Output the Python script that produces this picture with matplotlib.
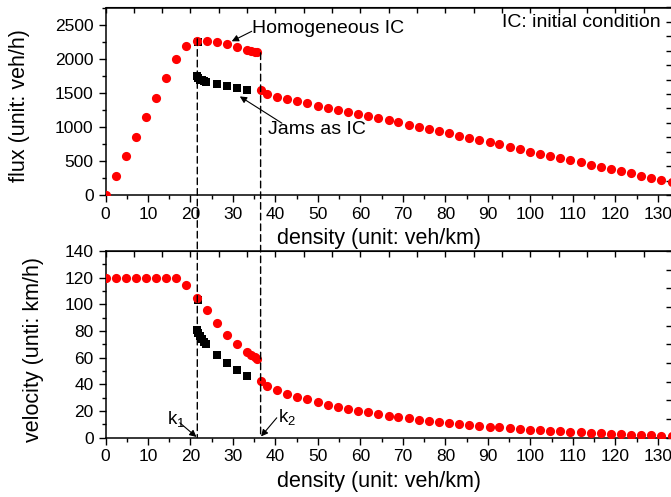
import numpy as np
import matplotlib
matplotlib.use('Agg')
import matplotlib.pyplot as plt
from matplotlib.patches import ConnectionPatch
from matplotlib.ticker import MultipleLocator, NullFormatter

plt.rcParams['font.family'] = ['Liberation Sans', 'DejaVu Sans']
plt.rcParams['mathtext.fontset'] = 'custom'
plt.rcParams['mathtext.rm'] = 'Liberation Sans'

# homogeneous initial condition (red circles)
dens_hom = [0, 2.4, 4.8, 7.1, 9.5, 11.9, 14.3, 16.7, 19.0, 21.5, 23.8, 26.2, 28.6, 30.9,
            33.3, 34.3, 35.1, 35.7, 36.5,
            38.0, 40.4, 42.8, 45.1, 47.5, 49.9, 52.3, 54.7, 57.0, 59.4, 61.8, 64.2, 66.6,
            68.9, 71.3, 73.7, 76.1, 78.5, 80.8, 83.2, 85.6, 88.0, 90.4, 92.7, 95.1, 97.5,
            99.9, 102.3, 104.6, 107.0, 109.4, 111.8, 114.2, 116.5, 118.9, 121.3, 123.7,
            126.1, 128.4, 130.8, 133.2]
flux_hom = [0, 285, 570, 855, 1140, 1425, 1710, 2000, 2181, 2255, 2264, 2245, 2210, 2176,
            2132, 2117, 2102, 2092, 1534,
            1475, 1440, 1410, 1377, 1350, 1312, 1282, 1250, 1216, 1187, 1158, 1128, 1093,
            1064, 1029, 1000, 968, 936, 907, 868, 838, 809, 777, 745, 706, 676,
            637, 608, 578, 544, 515, 480, 446, 416, 382, 348, 319,
            284, 255, 221, 191]
vel_hom = [120, 120, 120, 120, 120, 120, 120, 120, 114.6, 105, 95.4, 86, 77, 70.2,
           64.2, 62.2, 60.4, 58.9, 42.2,
           38.8, 35.8, 33, 30.5, 28.8, 26.6, 24.7, 22.9, 21.4, 20.1, 18.8, 17.7, 16.5,
           15.4, 14.4, 13.5, 12.5, 11.6, 10.9, 10.1, 9.4, 8.8, 8.2, 7.6, 7.0, 6.5,
           6.0, 5.5, 5.1, 4.6, 4.2, 3.8, 3.5, 3.2, 2.8, 2.5, 2.2,
           1.9, 1.7, 1.4, 1.2]

# jams as initial condition (black squares)
dens_jam = [21.7, 21.6, 21.8, 22.2, 22.7, 23.2, 23.7, 26.2, 28.6, 30.9, 33.3]
flux_jam = [2240, 1745, 1712, 1690, 1680, 1670, 1660, 1632, 1603, 1568, 1544]
vel_jam = [103, 80.8, 78.5, 76, 74, 72, 70, 62.2, 56, 51, 46]

# critical densities k1, k2 and the flux where the dashed markers start
k_crit = [21.6, 36.5]
k_top = [2290, 2085]

XMAX = 133.3
W, H = 671, 497

fig = plt.figure(figsize=(W / 100, H / 100), dpi=100)
ax1 = fig.add_axes([105.5 / W, 1 - 195 / H, 566.5 / W, 187.5 / H])
ax2 = fig.add_axes([105.5 / W, 1 - 437.5 / H, 566.5 / W, 186.5 / H])


def style(ax, ymax, ymajor, yminor, yright):
    ax.set_xlim(0, XMAX)
    ax.set_ylim(0, ymax)
    ax.xaxis.set_major_locator(MultipleLocator(10))
    ax.xaxis.set_minor_locator(MultipleLocator(5))
    ax.yaxis.set_major_locator(MultipleLocator(ymajor))
    ax.yaxis.set_minor_locator(MultipleLocator(yminor))
    ax.tick_params(which='both', direction='out', width=1, labelsize=12.5,
                   top=False, right=False)
    ax.tick_params(which='major', length=5)
    ax.tick_params(which='minor', length=3)
    for s in ax.spines.values():
        s.set_linewidth(1.1)
    # opposite axes: inward ticks without labels
    top = ax.secondary_xaxis('top')
    top.set_xticks(np.linspace(0, XMAX, 21))
    top.xaxis.set_major_formatter(NullFormatter())
    top.tick_params(direction='in', length=4, width=1)
    right = ax.secondary_yaxis('right')
    right.set_yticks(np.linspace(0, ymax, yright + 1))
    right.yaxis.set_major_formatter(NullFormatter())
    right.tick_params(direction='in', length=4, width=1)
    ax.set_xlabel('density (unit: veh/km)', fontsize=15.5)
    ax.xaxis.set_label_coords(0.483, -0.177)


# flux panel
ax1.plot(dens_jam, flux_jam, 's', color='black', ms=5.3, mew=0, zorder=3)
ax1.plot(dens_hom, flux_hom, 'o', color='red', ms=6.6, mew=0, zorder=4)
style(ax1, 2750, 500, 250, 13)
ax1.set_ylabel('flux (unit: veh/h)', fontsize=15.5)
ax1.yaxis.set_label_coords(-0.134, 0.475)

ax1.text(34.5, 2441, 'Homogeneous IC', fontsize=14, va='center', ha='left')
ax1.annotate('', xy=(29.7, 2254), xytext=(34.4, 2401),
             arrowprops=dict(arrowstyle='-|>', color='black', lw=0.8,
                             mutation_scale=10, shrinkA=0, shrinkB=0))
ax1.text(38.2, 956, 'Jams as IC', fontsize=14, va='center', ha='left')
ax1.annotate('', xy=(31.6, 1446), xytext=(41.5, 1054),
             arrowprops=dict(arrowstyle='-|>', color='black', lw=0.8,
                             mutation_scale=10, shrinkA=0, shrinkB=0))
ax1.text(93.2, 2530, 'IC: initial condition', fontsize=14, va='center', ha='left')

# velocity panel
ax2.plot(dens_jam, vel_jam, 's', color='black', ms=5.3, mew=0, zorder=3)
ax2.plot(dens_hom, vel_hom, 'o', color='red', ms=6.6, mew=0, zorder=4)
style(ax2, 140, 20, 10, 10)
ax2.set_ylabel('velocity (unti: km/h)', fontsize=15.5)
ax2.yaxis.set_label_coords(-0.1086, 0.47)

ax2.text(14.5, 9.4, r'$\mathrm{k}_{\mathrm{1}}$', fontsize=13.5, va='baseline')
ax2.annotate('', xy=(21.4, 0.4), xytext=(17.5, 11),
             arrowprops=dict(arrowstyle='-|>', color='black', lw=0.8,
                             mutation_scale=10, shrinkA=0, shrinkB=0))
ax2.text(40.6, 10.9, r'$\mathrm{k}_{\mathrm{2}}$', fontsize=13.5, va='baseline')
ax2.annotate('', xy=(36.6, 0.8), xytext=(40.3, 14.8),
             arrowprops=dict(arrowstyle='-|>', color='black', lw=0.8,
                             mutation_scale=10, shrinkA=0, shrinkB=0))

# dashed lines at k1 and k2 running through both panels
for k, ftop in zip(k_crit, k_top):
    con = ConnectionPatch(xyA=(k, ftop), coordsA='data', axesA=ax1,
                          xyB=(k, 0), coordsB='data', axesB=ax2,
                          color='black', lw=1.0, linestyle=(0, (4.8, 2.9)))
    fig.add_artist(con)

fig.savefig('out.png', dpi=100)
